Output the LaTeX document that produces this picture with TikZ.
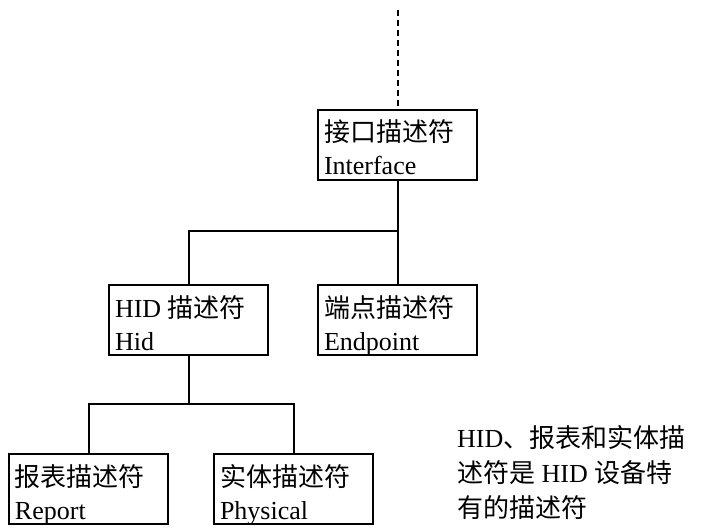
\documentclass[tikz,border=0pt]{standalone}
\usepackage{fontspec}
\setmainfont{Liberation Serif}
\newfontfamily\cjk{Noto Sans CJK SC}
\newcommand{\bxtext}[2]{\parbox[c][70pt][t]{147pt}{\fontsize{26}{33}\selectfont\rule{0pt}{32pt}#1\\#2}}
\begin{document}
\begin{tikzpicture}[x=1pt,y=-1pt,
  descbox/.style={draw, line width=2pt, inner xsep=6pt, inner ysep=0pt, anchor=north west, fill=white},
  conn/.style={line width=2pt},
  note/.style={anchor=base west, align=left, font=\fontsize{26}{35}\selectfont, inner sep=0pt}]
\useasboundingbox (0,0) rectangle (702,532);
\node[descbox] (iface) at (317,109) {\bxtext{{\cjk 接口描述符}}{Interface}};
\node[descbox] (hid) at (108,284) {\bxtext{HID {\cjk 描述符}}{Hid}};
\node[descbox] (ep) at (317,284) {\bxtext{{\cjk 端点描述符}}{Endpoint}};
\node[descbox] (rep) at (8,453) {\bxtext{{\cjk 报表描述符}}{Report}};
\node[descbox] (phy) at (213,453) {\bxtext{{\cjk 实体描述符}}{Physical}};
\coordinate (top) at (iface.north |- 0,10);
\coordinate (j1) at (iface.south |- 0,231);
\coordinate (j2) at (hid.south |- 0,404);
\draw[conn, dash pattern=on 6pt off 4pt] (top) -- (iface.north);
\draw[conn] (iface.south) -- (ep.north);
\draw[conn] (hid.north) |- (j1);
\draw[conn] (hid.south) -- (j2);
\draw[conn] (rep.north) |- (j2) -| (phy.north);
\node[note] (txt) at (457,517) {HID{\cjk 、报表和实体描}\\{\cjk 述符是} HID {\cjk 设备特}\\{\cjk 有的描述符}};
\end{tikzpicture}
\end{document}
